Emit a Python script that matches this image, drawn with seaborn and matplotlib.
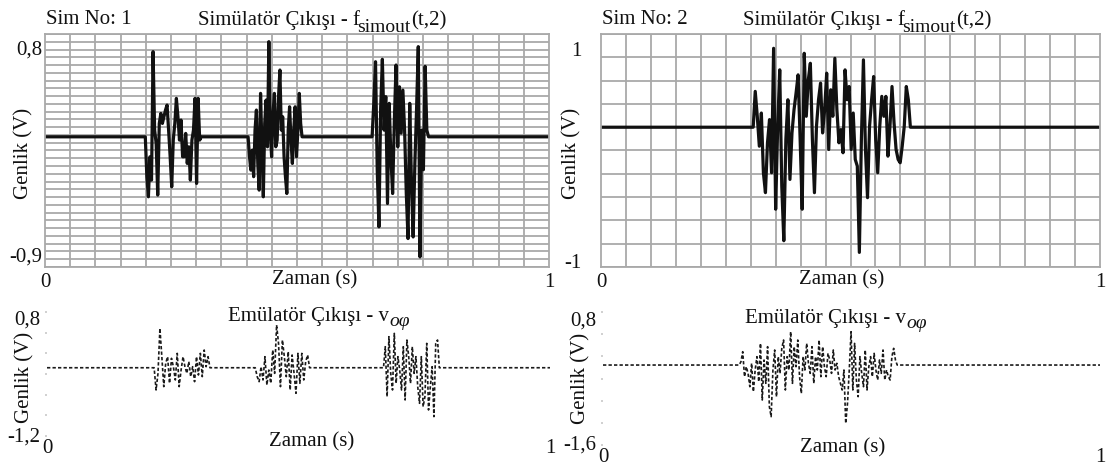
import numpy as np
import pandas as pd
import matplotlib
matplotlib.use("Agg")
import matplotlib.pyplot as plt
import seaborn as sns

# ---------------- data ----------------
# Simulator output, Sim No 1 (three bursts)
sim1_base = 0.07
sim1_b1_span = [0.199, 0.310]
sim1_b1 = [0.07, -0.258, -0.423, -0.094, -0.286, 0.770, 0.125, 0.015, -0.409, 0.180,
           0.262, 0.180, 0.235, 0.290, 0.331, 0.125, -0.094, -0.341, 0.043, 0.180,
           0.386, 0.235, 0.043, 0.208, -0.094, -0.094, 0.098, -0.149, -0.012, -0.286,
           0.043, 0.125, 0.386, -0.313, 0.386, 0.043, 0.07]
sim1_b2_span = [0.403, 0.510]
sim1_b2 = [0.07, -0.094, -0.204, -0.039, -0.258, 0.125, 0.290, -0.149, -0.368, 0.427,
           -0.012, -0.423, 0.180, 0.372, -0.012, 0.852, 0.125, -0.094, 0.262, 0.427,
           -0.012, 0.043, 0.400, 0.619, 0.125, 0.235, -0.094, -0.258, -0.396, 0.125,
           0.317, 0.043, -0.149, 0.125, 0.317, -0.094, 0.125, 0.427, 0.180, 0.07]
sim1_b3_span = [0.649, 0.761]
sim1_b3 = [0.07, 0.35, 0.687, -0.20, -0.670, 0.30, 0.707, 0.125, 0.40, -0.478,
           0.345, -0.10, -0.396, 0.20, 0.660, -0.012, 0.481, 0.10, 0.454, 0.125,
           -0.40, -0.766, 0.345, -0.30, -0.753, -0.149, 0.30, 0.811, -0.917, 0.125,
           -0.20, 0.649, 0.125, 0.07]

# Simulator output, Sim No 2 (one burst)
sim2_base = 0.262
sim2_b1_span = [0.305, 0.620]
sim2_b1 = [0.262, 0.600, 0.365, 0.083, 0.396, -0.167, -0.355, 0.115, 0.334, -0.167,
           1.006, -0.511, 0.271, 0.803, -0.292, -0.808, 0.146, 0.521, -0.230, 0.208,
           0.427, 0.584, 0.756, 0.146, -0.511, 0.959, 0.365, 0.709, 0.865, 0.146,
           -0.355, 0.271, 0.521, 0.678, 0.208, 0.427, 0.772, 0.052, 0.615, 0.365,
           0.912, 0.427, 0.115, 0.240, 0.021, 0.803, 0.521, 0.646, 0.052, 0.396,
           -0.042, -0.105, -0.918, 0.146, 0.897, 0.052, -0.402, 0.271, 0.521, 0.740,
           0.146, -0.167, 0.271, 0.553, 0.365, 0.553, -0.011, 0.271, 0.646, 0.302,
           0.052, -0.042, -0.073, 0.083, 0.271, 0.646, 0.521, 0.262]

# Emulator output, Sim No 1
emu1_base = -0.05
emu1_b1_span = [0.213, 0.324]
emu1_b1 = [-0.05, -0.430, -0.146, 0.624, 0.139, -0.373, 0.025, 0.139, -0.316, 0.111,
           -0.032, -0.259, 0.196, -0.373, -0.089, 0.139, -0.032, -0.146, 0.054, -0.202,
           -0.032, -0.288, 0.139, -0.174, 0.196, -0.202, 0.253, -0.032, 0.139, -0.05]
emu1_b2_span = [0.414, 0.522]
emu1_b2 = [-0.05, -0.202, -0.288, -0.032, -0.259, 0.139, -0.345, -0.089, -0.316, 0.253,
           -0.146, 0.681, 0.367, -0.373, 0.424, 0.139, -0.202, 0.225, -0.430, 0.168,
           -0.146, -0.487, 0.196, -0.316, 0.196, -0.259, 0.054, 0.168, -0.05]
emu1_b3_span = [0.669, 0.780]
emu1_b3 = [-0.05, 0.310, -0.544, 0.481, -0.146, -0.430, 0.538, -0.316, 0.139, -0.089,
           -0.430, 0.310, -0.601, 0.424, 0.139, -0.316, 0.310, -0.146, 0.139, -0.373,
           -0.658, 0.139, -0.715, -0.544, 0.367, -0.772, -0.373, -0.032, -0.886, 0.367,
           0.424, -0.05]

# Emulator output, Sim No 2
emu2_base = -0.109
emu2_b1_span = [0.274, 0.592]
emu2_b1 = [-0.109, -0.044, 0.149, -0.334, -0.141, -0.270, -0.528, -0.076, -0.624, -0.205,
           0.053, -0.431, 0.310, -0.786, -0.012, -0.463, 0.246, -0.914, -1.108, -0.205,
           0.182, -0.721, 0.053, -0.270, 0.214, 0.375, -0.592, 0.053, -0.205, 0.536,
           -0.463, 0.246, -0.141, 0.375, -0.334, -0.657, 0.053, -0.205, 0.310, -0.076,
           -0.270, 0.246, -0.463, 0.053, -0.205, 0.375, -0.334, 0.246, -0.141, -0.334,
           0.117, -0.012, -0.270, 0.182, -0.205, -0.076, -0.334, -0.463, -0.592, -0.205,
           -1.237, -0.850, -0.205, 0.536, -0.592, 0.310, -0.399, -0.721, 0.053, -0.270,
           -0.528, 0.182, -0.592, -0.141, 0.053, -0.334, 0.117, -0.205, -0.399, -0.012,
           -0.270, 0.182, -0.399, -0.205, -0.334, -0.399, 0.053, 0.214, -0.012, -0.109]

# axis ranges and tick labels
sim1_ylim = [-1.0, 0.915]
sim1_ticks = [0.8, -0.9]
sim1_ticklabels = ["0,8", "-0,9"]
sim2_ylim = [-1.056, 1.141]
sim2_ticks = [1.0, -1.0]
sim2_ticklabels = ["1", "-1"]
emu1_ylim = [-1.217, 0.903]
emu1_ticks = [0.8, -1.2]
emu1_ticklabels = ["0,8", "-1,2"]
emu2_ylim = [-1.656, 0.917]
emu2_ticks = [0.8, -1.6]
emu2_ticklabels = ["0,8", "-1,6"]
x_ticks = [0, 1]
x_ticklabels = ["0", "1"]

sim_title_parts = ["Simülatör Çıkışı - f", "simout", "(t,2)"]
emu_title_parts = ["Emülatör Çıkışı - v", "oφ"]
sim_labels = ["Sim No: 1", "Sim No: 2"]
xlabel = "Zaman (s)"
ylabel = "Genlik (V)"


def build(base, bursts):
    t = [0.0]
    y = [base]
    for (a, b), vals in bursts:
        t.extend(np.linspace(a, b, len(vals)))
        y.extend(vals)
    t.append(1.0)
    y.append(base)
    return pd.DataFrame({"t": t, "v": y})


df_sim1 = build(sim1_base, [(sim1_b1_span, sim1_b1), (sim1_b2_span, sim1_b2), (sim1_b3_span, sim1_b3)])
df_sim2 = build(sim2_base, [(sim2_b1_span, sim2_b1)])
df_emu1 = build(emu1_base, [(emu1_b1_span, emu1_b1), (emu1_b2_span, emu1_b2), (emu1_b3_span, emu1_b3)])
df_emu2 = build(emu2_base, [(emu2_b1_span, emu2_b1)])

# ---------------- style ----------------
sns.set_theme(style="white")
plt.rcParams["font.family"] = ["Liberation Serif", "DejaVu Serif"]
FS = 15
INK = "#111111"
W, H = 1107, 469
fig = plt.figure(figsize=(W / 100, H / 100), dpi=100)


def rect(x0, y0, x1, y1):
    return [x0 / W, 1 - y1 / H, (x1 - x0) / W, (y1 - y0) / H]


def ftext(x, y, s, **kw):
    return fig.text(x / W, 1 - y / H, s, fontsize=FS, color=INK, **kw)


def chain(ax, prev, s, dx, dy, size=FS, **kw):
    return ax.annotate(s, xy=(1, 0), xycoords=prev, xytext=(dx, dy),
                       textcoords="offset points", ha="left", va="bottom",
                       fontsize=size, color=INK, annotation_clip=False, **kw)


GRID = "#a9a9a9"


def top_panel(r, df, ylim, ticks, ticklabels, nh, ypad, xlab_pos, ylab_pos):
    ax = fig.add_axes(r)
    sns.lineplot(data=df, x="t", y="v", ax=ax, color=INK, linewidth=2.3,
                 estimator=None, sort=False)
    ax.set_xlim(0, 1)
    ax.set_ylim(*ylim)
    ax.set_xticks(np.linspace(0, 1, 21), minor=True)
    ax.set_yticks(np.linspace(ylim[0], ylim[1], nh + 1), minor=True)
    ax.grid(which="minor", color=GRID, linewidth=1.3)
    ax.grid(which="major", visible=False)
    ax.set_xticks(x_ticks, x_ticklabels)
    ax.set_yticks(ticks, ticklabels)
    ax.tick_params(which="both", length=0)
    ax.tick_params(axis="x", pad=4, labelsize=FS, labelcolor=INK)
    ax.tick_params(axis="y", pad=ypad, labelsize=FS, labelcolor=INK)
    for s in ax.spines.values():
        s.set_color(GRID)
        s.set_linewidth(1.3)
    ax.set_xlabel(xlabel, fontsize=FS, color=INK, va="center")
    ax.set_ylabel(ylabel, fontsize=FS, color=INK, va="center")
    ax.xaxis.set_label_coords(*xlab_pos)
    ax.yaxis.set_label_coords(*ylab_pos)
    return ax


def bottom_panel(r, df, ylim, ticks, ticklabels, ypad, xlab_pos, ylab_pos):
    ax = fig.add_axes(r)
    sns.lineplot(data=df, x="t", y="v", ax=ax, color="#1a1a1a", linewidth=1.2,
                 estimator=None, sort=False, linestyle=(0, (2.0, 1.3)))
    ax.set_xlim(0, 1)
    ax.set_ylim(*ylim)
    for s in ax.spines.values():
        s.set_visible(False)
    ax.grid(False)
    ax.set_xticks(x_ticks, x_ticklabels)
    ax.set_yticks(ticks, ticklabels)
    ax.set_yticks(np.linspace(ylim[0], ylim[1], 7), minor=True)
    ax.tick_params(axis="y", which="minor", length=1.5, width=1.2, color="#c8c8c8",
                   direction="out", left=True)
    ax.tick_params(axis="both", which="major", length=0)
    ax.tick_params(axis="x", pad=2, labelsize=FS, labelcolor=INK)
    ax.tick_params(axis="y", pad=ypad, labelsize=FS, labelcolor=INK)
    ax.set_xlabel(xlabel, fontsize=FS, color=INK, va="center")
    ax.set_ylabel(ylabel, fontsize=FS, color=INK, va="center")
    ax.xaxis.set_label_coords(*xlab_pos)
    ax.yaxis.set_label_coords(*ylab_pos)
    return ax


ax1 = top_panel(rect(45, 34, 549, 267), df_sim1, sim1_ylim, sim1_ticks, sim1_ticklabels, 30, 2,
                (0.534, -0.056), (-0.042, 0.489))
ax2 = top_panel(rect(601, 34, 1100, 267), df_sim2, sim2_ylim, sim2_ticks, sim2_ticklabels, 10, 14,
                (0.483, -0.056), (-0.058, 0.489))
ax3 = bottom_panel(rect(47, 312, 550, 436), df_emu1, emu1_ylim, emu1_ticks, emu1_ticklabels, 5,
                   (0.527, -0.048), (-0.045, 0.47))
ax4 = bottom_panel(rect(603, 312, 1100, 445), df_emu2, emu2_ylim, emu2_ticks, emu2_ticklabels, 5,
                   (0.483, -0.023), (-0.045, 0.50))

ftext(46, 20, sim_labels[0], ha="left", va="center")
ftext(602, 20, sim_labels[1], ha="left", va="center")

# simulator titles: f with a lowered full-size "simout" then "(t,2)"
for ax, x0 in ((ax1, 198), (ax2, 743)):
    t1 = ftext(x0, 25, sim_title_parts[0], ha="left", va="baseline")
    t2 = chain(ax, t1, sim_title_parts[1], -2.0, -4.5, size=14)
    chain(ax, t2, sim_title_parts[2], 0.3, 4.5)

# emulator titles: v with italic subscript
for ax, x0, y0 in ((ax3, 228, 321), (ax4, 745, 323)):
    e1 = ftext(x0, y0, emu_title_parts[0], ha="left", va="baseline")
    chain(ax, e1, emu_title_parts[1], 0.3, -3, size=14, style="italic")

fig.savefig("out.png", dpi=100, facecolor="white")
